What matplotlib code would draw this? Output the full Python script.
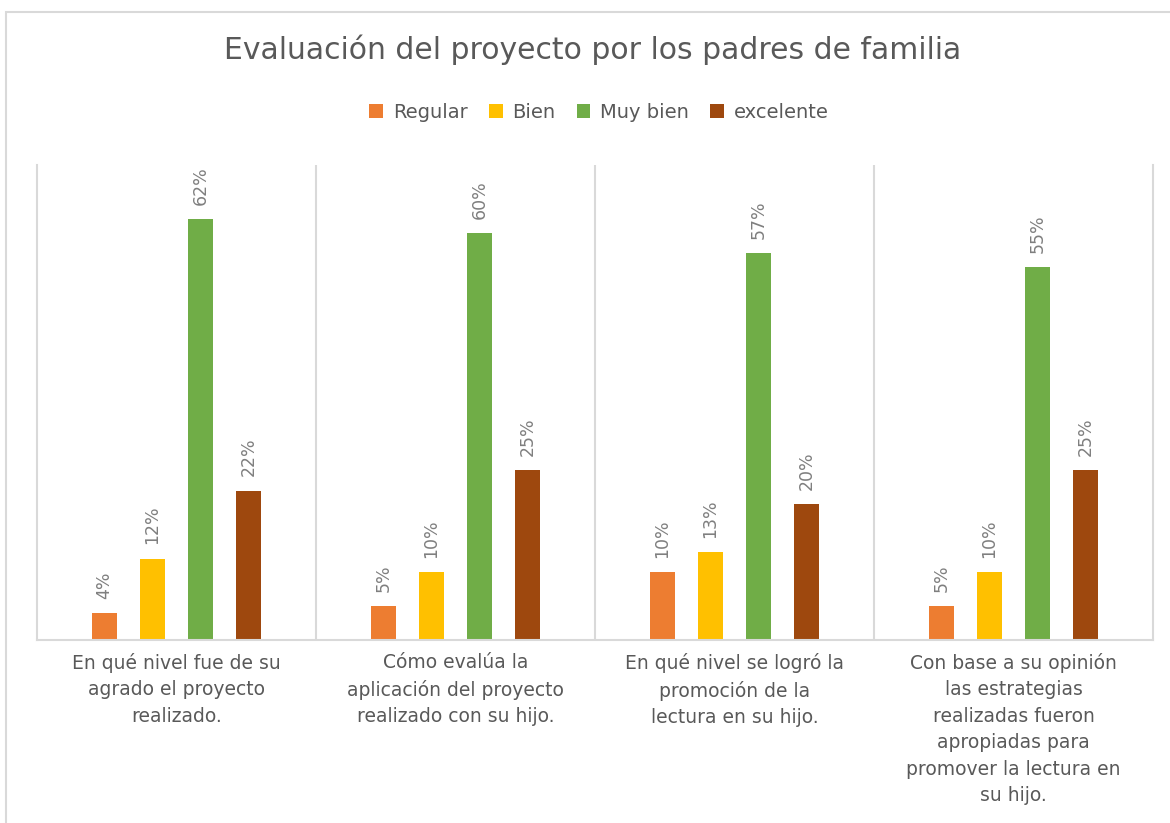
import numpy as np
import matplotlib.pyplot as plt
from matplotlib.patches import Rectangle

# Datos de la evaluación
categorias = [
    "En qué nivel fue de su\nagrado el proyecto\nrealizado.",
    "Cómo evalúa la\naplicación del proyecto\nrealizado con su hijo.",
    "En qué nivel se logró la\npromoción de la\nlectura en su hijo.",
    "Con base a su opinión\nlas estrategias\nrealizadas fueron\napropiadas para\npromover la lectura en\nsu hijo.",
]
series = ["Regular", "Bien", "Muy bien", "excelente"]
regular = [0.04, 0.05, 0.10, 0.05]
bien = [0.12, 0.10, 0.13, 0.10]
muy_bien = [0.62, 0.60, 0.57, 0.55]
excelente = [0.22, 0.25, 0.20, 0.25]
colores = ["#ED7D31", "#FFC000", "#70AD47", "#9E480E"]

texto = "#595959"
borde = "#D9D9D9"

fig = plt.figure(figsize=(11.7, 8.23), dpi=100)
fig.patches.append(Rectangle((6 / 1170, -0.01), 1.1, 1 - 12 / 823 + 0.01,
                             transform=fig.transFigure, fill=False,
                             edgecolor=borde, linewidth=1.5))

ax = fig.add_axes([37 / 1170, 1 - 640 / 823, (1153 - 37) / 1170, (640 - 165) / 823])

x = np.arange(len(categorias))
ancho = 0.09
paso = 0.172
valores = [regular, bien, muy_bien, excelente]
for i, (nombre, vals) in enumerate(zip(series, valores)):
    pos = x + (i - 1.5) * paso
    barras = ax.bar(pos, vals, ancho, color=colores[i], label=nombre)
    for b, v in zip(barras, vals):
        ax.text(b.get_x() + b.get_width() / 2, v + 0.021, f"{v:.0%}",
                rotation=90, ha="center", va="bottom", fontsize=12.5,
                color="#7F7F7F")

ax.set_xlim(-0.5, len(categorias) - 0.5)
ax.set_ylim(0, 0.70)
ax.set_yticks([])
ax.set_xticks([])
for k in range(1, len(categorias)):
    ax.axvline(k - 0.5, color=borde, linewidth=1.5)
for lado in ["left", "right", "bottom"]:
    ax.spines[lado].set_color(borde)
    ax.spines[lado].set_linewidth(1.5)
ax.spines["top"].set_visible(False)

for xi, cat in zip(x, categorias):
    ax.text(xi, -0.019, cat, ha="center", va="top", fontsize=13.5,
            color=texto, linespacing=1.5)

fig.text(593 / 1170, 1 - 50 / 823, "Evaluación del proyecto por los padres de familia",
         ha="center", va="center", fontsize=21.5, color=texto)

fig.legend(loc="center", bbox_to_anchor=(599 / 1170, 1 - 112 / 823), ncol=4,
           frameon=False, fontsize=14, handlelength=0.7, handleheight=0.7,
           handletextpad=0.5, columnspacing=1.1, labelcolor=texto)

fig.savefig("out.png", dpi=100)
